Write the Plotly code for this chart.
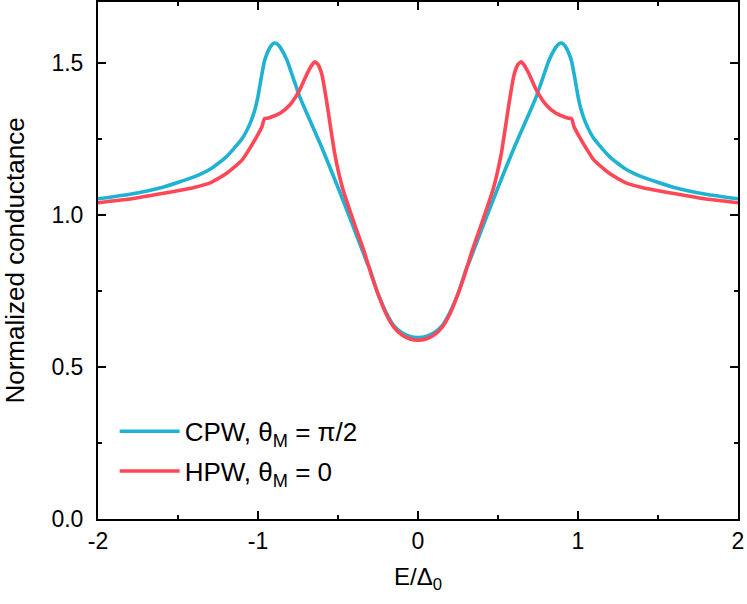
import plotly.graph_objects as go

# CPW, theta_M = pi/2 (blue)
e_cpw = [-2.0, -1.8, -1.6, -1.4, -1.3, -1.2, -1.1, -1.05, -1.02, -1.0, -0.98, -0.96, -0.94,
         -0.92, -0.9, -0.88, -0.86, -0.82, -0.78, -0.74, -0.7, -0.6, -0.5, -0.4, -0.32,
         -0.3, -0.25, -0.2, -0.15, -0.1, -0.05, 0.0,
         0.05, 0.1, 0.15, 0.2, 0.25, 0.3, 0.32, 0.4, 0.5, 0.6, 0.7, 0.74, 0.78, 0.82,
         0.86, 0.88, 0.9, 0.92, 0.94, 0.96, 0.98, 1.0, 1.02, 1.05, 1.1, 1.2, 1.3, 1.4, 1.6, 1.8, 2.0]
g_cpw = [1.053, 1.068, 1.09, 1.125, 1.15, 1.19, 1.25, 1.30, 1.345, 1.39, 1.45, 1.505, 1.535,
         1.555, 1.565, 1.562, 1.55, 1.51, 1.45, 1.39, 1.34, 1.22, 1.09, 0.955, 0.845,
         0.82, 0.74, 0.68, 0.635, 0.612, 0.600, 0.597,
         0.600, 0.612, 0.635, 0.68, 0.74, 0.82, 0.845, 0.955, 1.09, 1.22, 1.34, 1.39, 1.45, 1.51,
         1.55, 1.562, 1.565, 1.555, 1.535, 1.505, 1.45, 1.39, 1.345, 1.30, 1.25, 1.19, 1.15, 1.125, 1.09, 1.068, 1.053]

# HPW, theta_M = 0 (red)
e_hpw = [-2.0, -1.8, -1.6, -1.4, -1.3, -1.2, -1.1, -1.05, -1.0, -0.975, -0.96, -0.94,
         -0.9, -0.86, -0.8, -0.74, -0.69, -0.66, -0.645, -0.625, -0.6, -0.57, -0.52, -0.47,
         -0.4, -0.34, -0.29, -0.25, -0.2, -0.15, -0.1, -0.05, 0.0,
         0.05, 0.1, 0.15, 0.2, 0.25, 0.29, 0.34, 0.4, 0.47, 0.52, 0.57, 0.6, 0.625, 0.645,
         0.66, 0.69, 0.74, 0.8, 0.86, 0.9, 0.94, 0.96, 0.975, 1.0, 1.05, 1.1, 1.2, 1.3, 1.4,
         1.6, 1.8, 2.0]
g_hpw = [1.04, 1.052, 1.07, 1.09, 1.105, 1.135, 1.18, 1.22, 1.265, 1.29, 1.316, 1.318,
         1.325, 1.335, 1.362, 1.41, 1.468, 1.495, 1.503, 1.495, 1.46, 1.37, 1.20, 1.085,
         0.975, 0.885, 0.80, 0.74, 0.675, 0.63, 0.605, 0.592, 0.588,
         0.592, 0.605, 0.63, 0.675, 0.74, 0.80, 0.885, 0.975, 1.085, 1.20, 1.37, 1.46, 1.495, 1.503,
         1.495, 1.468, 1.41, 1.362, 1.335, 1.325, 1.318, 1.316, 1.29, 1.265, 1.22, 1.18, 1.135, 1.105, 1.09,
         1.07, 1.052, 1.04]

x_ticks = [-2, -1, 0, 1, 2]
x_ticktext = ["-2", "-1", "0", "1", "2"]
y_ticks = [0.0, 0.5, 1.0, 1.5]
y_ticktext = ["0.0", "0.5", "1.0", "1.5"]

FONT = "Liberation Sans, Arial"

fig = go.Figure()
fig.add_trace(go.Scatter(x=e_cpw, y=g_cpw, mode="lines", legendgroup="cpw",
                         line=dict(color="#1FB2D3", width=3.6, shape="spline", smoothing=0.5),
                         name="CPW, θ<sub>M</sub> = π/2"))
fig.add_trace(go.Scatter(x=e_hpw, y=g_hpw, mode="lines", legendgroup="hpw",
                         line=dict(color="#FF4757", width=3.6, shape="spline", smoothing=0.5),
                         name="HPW, θ<sub>M</sub> = 0"))

axis_common = dict(showline=True, linecolor="black", linewidth=2, mirror="allticks",
                   ticks="inside", ticklen=8, tickwidth=2, tickcolor="black",
                   showgrid=False, zeroline=False, automargin=False,
                   tickfont=dict(family=FONT, size=23, color="black"))

fig.update_xaxes(range=[-2, 2], tickvals=x_ticks, ticktext=x_ticktext,
                 minor=dict(dtick=0.5, ticks="inside", ticklen=4, tickwidth=2, tickcolor="black"),
                 title=dict(text="E/Δ<sub>0</sub>", font=dict(family=FONT, size=24, color="black"),
                            standoff=16),
                 **axis_common)
fig.update_yaxes(range=[0, 1.7], tickvals=y_ticks, ticktext=y_ticktext,
                 ticklabelstandoff=8,
                 minor=dict(dtick=0.25, ticks="inside", ticklen=4, tickwidth=2, tickcolor="black"),
                 title=dict(text="Normalized conductance", font=dict(family=FONT, size=26, color="black"),
                            standoff=24),
                 **axis_common)

fig.update_layout(
    width=747, height=604,
    margin=dict(l=98, r=9, t=2, b=85),
    plot_bgcolor="white", paper_bgcolor="white",
    legend=dict(x=0.026, y=0.215, xanchor="left", yanchor="top", traceorder="grouped",
                font=dict(family=FONT, size=26, color="black"),
                bgcolor="rgba(0,0,0,0)", itemwidth=60, tracegroupgap=3),
)

# drop the browser's default body margin so the figure sits at the page origin
fig.write_html("out.html", config={"displayModeBar": False},
               post_script="document.body.style.margin='0';")
